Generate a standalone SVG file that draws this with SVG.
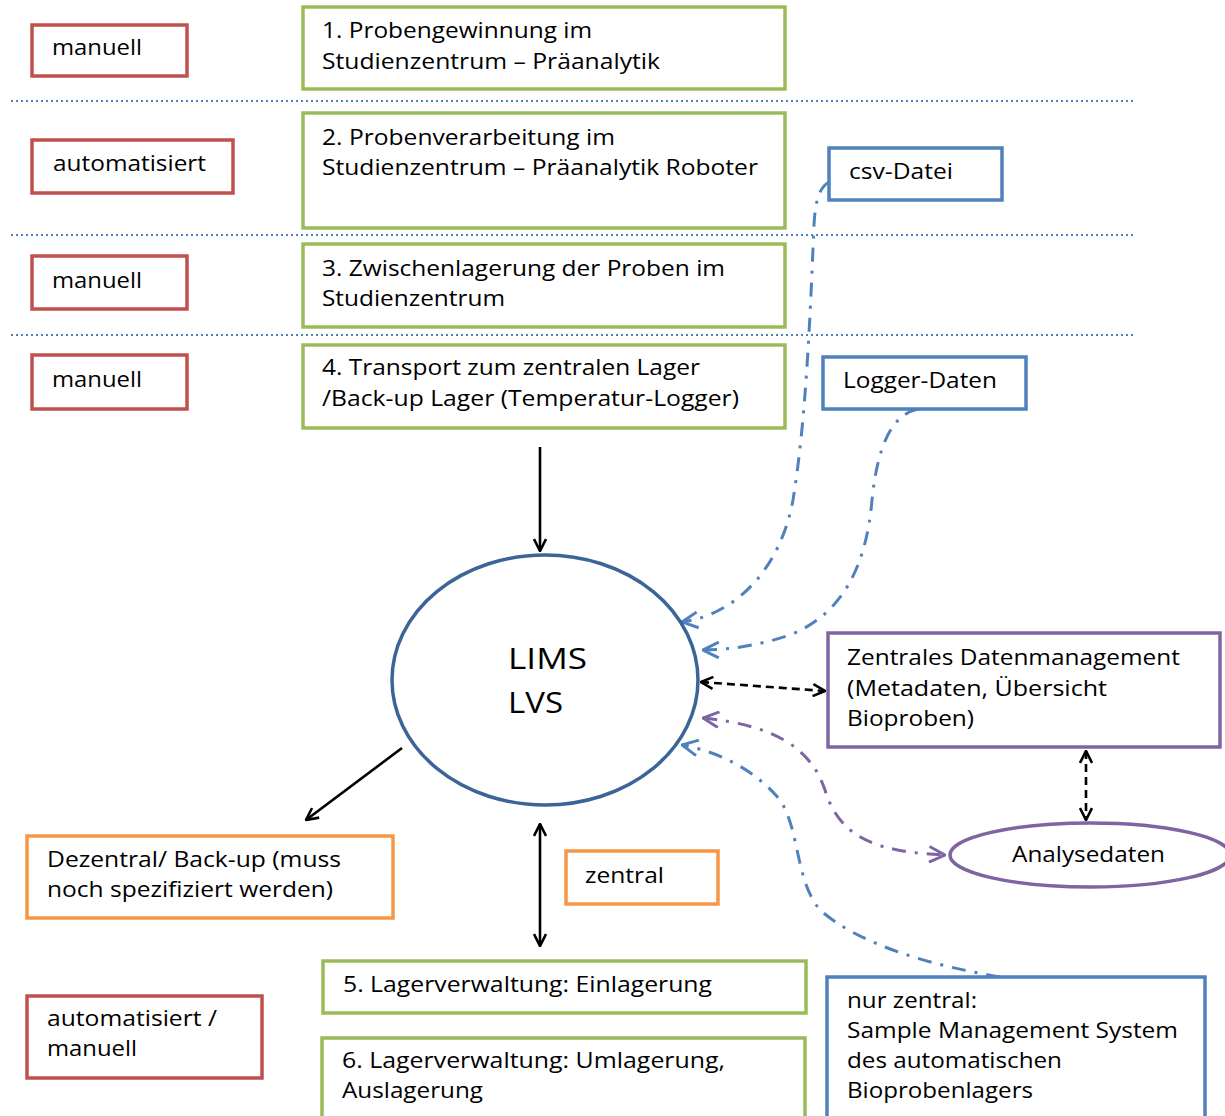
<svg xmlns="http://www.w3.org/2000/svg" width="1225" height="1116" viewBox="0 0 1225 1116">
<style>
text{font-family:"Open Sans","Noto Sans","DejaVu Sans",sans-serif;font-size:21px;fill:#000}
.cond{font-family:"Liberation Sans Narrow","Open Sans",sans-serif;font-size:22px}
.red{fill:#fff;stroke:#c0504d;stroke-width:3.5}
.green{fill:#fff;stroke:#9bbb59;stroke-width:3.5}
.blue{fill:#fff;stroke:#4f81bd;stroke-width:3.5}
.purple{fill:#fff;stroke:#8064a2;stroke-width:3.5}
.orange{fill:#fff;stroke:#f79646;stroke-width:3.5}
.sep{stroke:#4f81bd;stroke-width:2;stroke-dasharray:2 3;fill:none}
.dd{fill:none;stroke-width:3;stroke-dasharray:14 9 3 9}
.blk{stroke:#000;stroke-width:2.6}
</style>
<defs>
<marker id="ab" viewBox="0 0 14 14" refX="13" refY="7" markerWidth="14" markerHeight="14" markerUnits="userSpaceOnUse" orient="auto-start-reverse"><path d="M1,1 L13,7 L1,13" fill="none" stroke="#000" stroke-width="2.6"/></marker>
<marker id="abl" viewBox="0 0 16 16" refX="15" refY="8" markerWidth="18" markerHeight="18" markerUnits="userSpaceOnUse" orient="auto-start-reverse"><path d="M1,1 L15,8 L1,15" fill="none" stroke="#4f81bd" stroke-width="2.6"/></marker>
<marker id="apu" viewBox="0 0 16 16" refX="15" refY="8" markerWidth="18" markerHeight="18" markerUnits="userSpaceOnUse" orient="auto-start-reverse"><path d="M1,1 L15,8 L1,15" fill="none" stroke="#8064a2" stroke-width="2.6"/></marker>
</defs>
<rect width="1225" height="1116" fill="#fff"/>
<g id="separators">
<line class="sep" x1="11" y1="101" x2="1133" y2="101"/>
<line class="sep" x1="11" y1="235" x2="1133" y2="235"/>
<line class="sep" x1="11" y1="335" x2="1133" y2="335"/>
</g>
<g id="connectors">
<line class="blk" x1="540" y1="447" x2="540" y2="551" marker-end="url(#ab)"/>
<line class="blk" x1="402" y1="748" x2="306" y2="820" marker-end="url(#ab)"/>
<line class="blk" x1="540" y1="824" x2="540" y2="946" marker-start="url(#ab)" marker-end="url(#ab)"/>
<line class="blk" x1="701" y1="682" x2="825" y2="691" stroke-width="3" stroke-dasharray="8 5" marker-start="url(#ab)" marker-end="url(#ab)"/>
<line class="blk" x1="1086" y1="751" x2="1086" y2="820" stroke-width="3" stroke-dasharray="8 5" marker-start="url(#ab)" marker-end="url(#ab)"/>
<path class="dd" stroke="#4f81bd" d="M829,182 C818,188 815,205 814,225 C810,320 806,420 793,500 C780,570 735,615 682,622" marker-end="url(#abl)"/>
<path class="dd" stroke="#4f81bd" d="M918,409 C890,415 877,450 872,500 C866,570 840,615 790,635 C760,645 730,650 703,650" marker-end="url(#abl)"/>
<path class="dd" stroke="#8064a2" d="M703,718 C770,725 810,745 825,790 C840,840 880,852 945,855" marker-start="url(#apu)" marker-end="url(#apu)"/>
<path class="dd" stroke="#4f81bd" d="M1000,977 C930,965 860,945 820,910 C795,880 800,830 780,800 C755,770 720,752 682,745" marker-end="url(#abl)"/>
</g>
<g id="n-manuell1"><rect class="red" x="32" y="25" width="155" height="51"/><text x="52" y="55" textLength="90" lengthAdjust="spacingAndGlyphs">manuell</text></g>
<g id="n-step1"><rect class="green" x="303" y="7" width="482" height="82"/><text x="322" y="38" textLength="270" lengthAdjust="spacingAndGlyphs">1. Probengewinnung im</text><text x="322" y="69" textLength="338" lengthAdjust="spacingAndGlyphs">Studienzentrum – Präanalytik</text></g>
<g id="n-auto"><rect class="red" x="32" y="140" width="201" height="53"/><text x="53" y="171" textLength="153" lengthAdjust="spacingAndGlyphs">automatisiert</text></g>
<g id="n-step2"><rect class="green" x="303" y="113" width="482" height="115"/><text x="322" y="145" textLength="293" lengthAdjust="spacingAndGlyphs">2. Probenverarbeitung im</text><text x="322" y="175" textLength="436" lengthAdjust="spacingAndGlyphs">Studienzentrum – Präanalytik Roboter</text></g>
<g id="n-manuell3"><rect class="red" x="32" y="256" width="155" height="53"/><text x="52" y="288" textLength="90" lengthAdjust="spacingAndGlyphs">manuell</text></g>
<g id="n-step3"><rect class="green" x="303" y="244" width="482" height="83"/><text x="322" y="276" textLength="403" lengthAdjust="spacingAndGlyphs">3. Zwischenlagerung der Proben im</text><text x="322" y="306" textLength="183" lengthAdjust="spacingAndGlyphs">Studienzentrum</text></g>
<g id="n-manuell4"><rect class="red" x="32" y="355" width="155" height="54"/><text x="52" y="387" textLength="90" lengthAdjust="spacingAndGlyphs">manuell</text></g>
<g id="n-step4"><rect class="green" x="303" y="345" width="482" height="83"/><text x="322" y="375" textLength="378" lengthAdjust="spacingAndGlyphs">4. Transport zum zentralen Lager</text><text x="322" y="406" textLength="417" lengthAdjust="spacingAndGlyphs">/Back-up Lager (Temperatur-Logger)</text></g>
<g id="n-csv"><rect class="blue" x="829" y="148" width="173" height="52"/><text x="849" y="179" textLength="104" lengthAdjust="spacingAndGlyphs">csv-Datei</text></g>
<g id="n-logger"><rect class="blue" x="823" y="357" width="203" height="52"/><text x="843" y="388" textLength="154" lengthAdjust="spacingAndGlyphs">Logger-Daten</text></g>
<g id="n-lims"><ellipse cx="545" cy="680" rx="153" ry="125" fill="#fff" stroke="#3a6596" stroke-width="3.5"/><text x="508" y="669" style="font-size:30px" textLength="79" lengthAdjust="spacingAndGlyphs">LIMS</text><text x="508" y="713" style="font-size:30px" textLength="55" lengthAdjust="spacingAndGlyphs">LVS</text></g>
<g id="n-zdm"><rect class="purple" x="828" y="633" width="392" height="114"/><text x="847" y="665" textLength="333" lengthAdjust="spacingAndGlyphs">Zentrales Datenmanagement</text><text x="847" y="696" textLength="260" lengthAdjust="spacingAndGlyphs">(Metadaten, Übersicht</text><text x="847" y="726" textLength="127" lengthAdjust="spacingAndGlyphs">Bioproben)</text></g>
<g id="n-analyse"><ellipse cx="1090" cy="855" rx="140" ry="32" fill="#fff" stroke="#8064a2" stroke-width="3.5"/><text x="1012" y="862" textLength="153" lengthAdjust="spacingAndGlyphs">Analysedaten</text></g>
<g id="n-dezentral"><rect class="orange" x="27" y="836" width="366" height="82"/><text class="cond" x="47" y="867" textLength="294" lengthAdjust="spacingAndGlyphs">Dezentral/ Back-up (muss</text><text class="cond" x="47" y="897" textLength="286" lengthAdjust="spacingAndGlyphs">noch spezifiziert werden)</text></g>
<g id="n-zentral"><rect class="orange" x="566" y="851" width="152" height="53"/><text class="cond" x="585" y="883" textLength="79" lengthAdjust="spacingAndGlyphs">zentral</text></g>
<g id="n-step5"><rect class="green" x="323" y="961" width="483" height="52"/><text class="cond" x="343" y="992" textLength="369" lengthAdjust="spacingAndGlyphs">5. Lagerverwaltung: Einlagerung</text></g>
<g id="n-step6"><rect class="green" x="322" y="1038" width="483" height="90"/><text class="cond" x="342" y="1068" textLength="383" lengthAdjust="spacingAndGlyphs">6. Lagerverwaltung: Umlagerung,</text><text class="cond" x="342" y="1098" textLength="141" lengthAdjust="spacingAndGlyphs">Auslagerung</text></g>
<g id="n-automan"><rect class="red" x="27" y="996" width="235" height="82"/><text class="cond" x="47" y="1026" textLength="170" lengthAdjust="spacingAndGlyphs">automatisiert /</text><text class="cond" x="47" y="1056" textLength="90" lengthAdjust="spacingAndGlyphs">manuell</text></g>
<g id="n-sms"><rect class="blue" x="827" y="977" width="378" height="150"/><text x="847" y="1008" textLength="130" lengthAdjust="spacingAndGlyphs">nur zentral:</text><text x="847" y="1038" textLength="331" lengthAdjust="spacingAndGlyphs">Sample Management System</text><text x="847" y="1068" textLength="215" lengthAdjust="spacingAndGlyphs">des automatischen</text><text x="847" y="1098" textLength="186" lengthAdjust="spacingAndGlyphs">Bioprobenlagers</text></g>
</svg>
